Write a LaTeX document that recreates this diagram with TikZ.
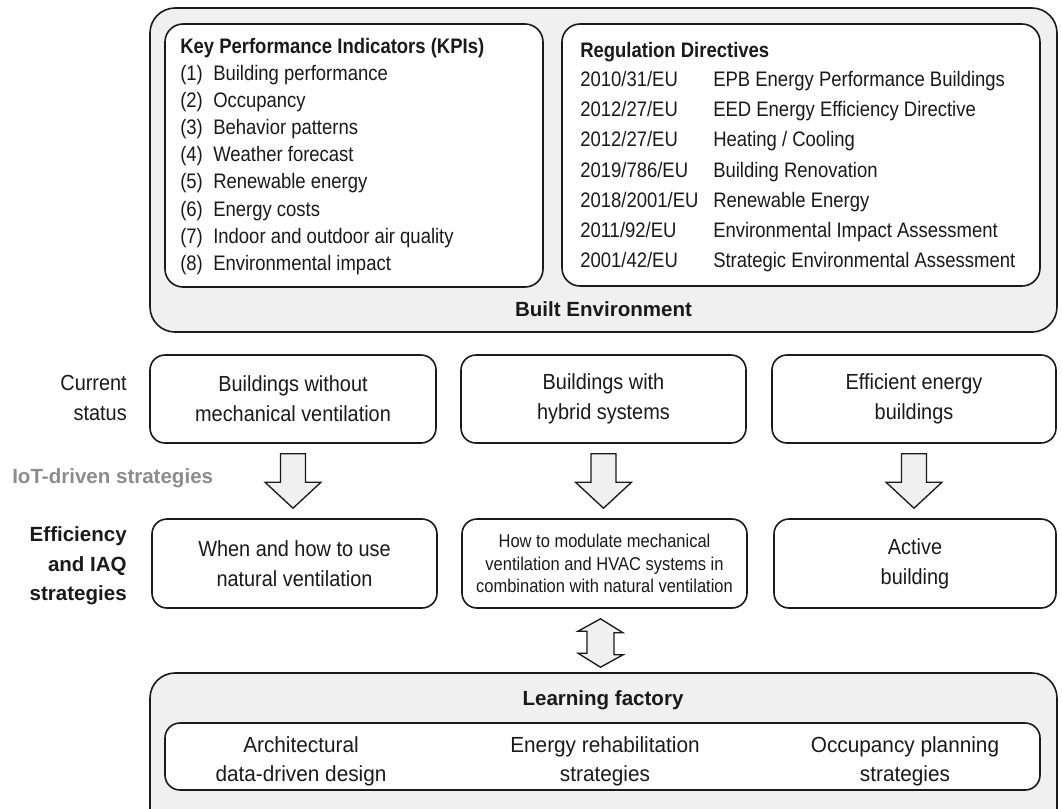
\documentclass[tikz,border=0pt]{standalone}
\usepackage{fontspec}
\setmainfont{Liberation Sans}
\newfontfamily\listfont{Liberation Sans}[FakeStretch=0.88]
\newfontfamily\boxfont{Liberation Sans}[FakeStretch=0.91]
\newfontfamily\lffont{Liberation Sans}[FakeStretch=0.95]
\newfontfamily\smallfont{Liberation Sans}[FakeStretch=0.89]
\usetikzlibrary{calc}
\definecolor{panel}{RGB}{240,240,240}
\definecolor{ink}{RGB}{26,26,26}
\definecolor{iotgray}{RGB}{140,140,140}
\tikzset{
  panelbox/.style={draw=ink, line width=1.2pt, fill=panel, rounded corners=25*0.75pt, inner sep=0pt},
  listbox/.style={draw=ink, line width=1.2pt, fill=white, rounded corners=18*0.75pt, inner sep=0pt},
  statebox/.style={draw=ink, line width=1.2pt, fill=white, rounded corners=15*0.75pt, inner sep=0pt,
    align=center, text=ink, font=\boxfont\fontsize{16.4}{22.5}\selectfont},
  listtext/.style={inner sep=0pt, anchor=base west, text=ink, font=\listfont\fontsize{15.75}{18}\selectfont},
  listhead/.style={listtext, font=\listfont\bfseries\fontsize{15.75}{18}\selectfont},
  sidelabel/.style={inner sep=0pt, anchor=east, align=right, text=ink},
  headtext/.style={inner sep=0pt, text=ink, font=\bfseries\fontsize{15.4}{18}\selectfont},
  lftext/.style={inner sep=0pt, align=center, text=ink, font=\lffont\fontsize{16.4}{21.75}\selectfont},
  blockarrow/.style={draw=ink, line width=1pt, fill=panel, line join=miter}
}
\begin{document}
\begin{tikzpicture}[x=0.75pt,y=-0.75pt]
\useasboundingbox (0,0) rectangle (1062,808);
\clip (0,0) rectangle (1062,808);

% Built environment panel with the two lists
\node[panelbox, minimum width=907*0.75pt, minimum height=324*0.75pt] (be) at (603.5,170) {};
\node[listbox, minimum width=378*0.75pt, minimum height=263*0.75pt] (kpi) at (354,155.5) {};
\node[listbox, minimum width=478*0.75pt, minimum height=262*0.75pt] (reg) at (801,155) {};
\node[headtext] (belabel) at (603.5,309) {Built Environment};

\node[listhead] (kpititle) at (180,53.5) {Key Performance Indicators (KPIs)};
\foreach \t [count=\i] in {Building performance, Occupancy, Behavior patterns, Weather forecast,
  Renewable energy, Energy costs, Indoor and outdoor air quality, Environmental impact}{
  \node[listtext] (kpinum\i) at (180,{80.5+(\i-1)*27.1}) {(\i)};
  \node[listtext] (kpitxt\i) at (213,{80.5+(\i-1)*27.1}) {\t};
}

\node[listhead] (regtitle) at (580,57.5) {Regulation Directives};
\node[listtext] (code1) at (580,86.5) {2010/31/EU};
\node[listtext] (dir1)  at (713,86.5) {EPB Energy Performance Buildings};
\node[listtext] (code2) at (580,116.7) {2012/27/EU};
\node[listtext] (dir2)  at (713,116.7) {EED Energy Efficiency Directive};
\node[listtext] (code3) at (580,146.9) {2012/27/EU};
\node[listtext] (dir3)  at (713,146.9) {Heating / Cooling};
\node[listtext] (code4) at (580,177.1) {2019/786/EU};
\node[listtext] (dir4)  at (713,177.1) {Building Renovation};
\node[listtext] (code5) at (580,207.3) {2018/2001/EU};
\node[listtext] (dir5)  at (713,207.3) {Renewable Energy};
\node[listtext] (code6) at (580,237.5) {2011/92/EU};
\node[listtext] (dir6)  at (713,237.5) {Environmental Impact Assessment};
\node[listtext] (code7) at (580,267.7) {2001/42/EU};
\node[listtext] (dir7)  at (713,267.7) {Strategic Environmental Assessment};

% Current status row
\node[sidelabel, font=\boxfont\fontsize{16.4}{22.5}\selectfont] (curlabel) at (127,398) {Current\\status};
\node[statebox, minimum width=286*0.75pt, minimum height=88*0.75pt] (cs1) at (293,399)
  {Buildings without\\mechanical ventilation};
\node[statebox, minimum width=285*0.75pt, minimum height=88*0.75pt] (cs2) at (603.5,399)
  {Buildings with\\hybrid systems};
\node[statebox, minimum width=284*0.75pt, minimum height=88*0.75pt] (cs3) at (914,399)
  {Efficient energy\\buildings};

\node[inner sep=0pt, anchor=west, text=iotgray, font=\bfseries\fontsize{15.4}{18}\selectfont] (iot) at (12,478)
  {IoT-driven strategies};

% Strategy row
\node[sidelabel, font=\bfseries\fontsize{15.4}{22}\selectfont] (efflabel) at (127,566)
  {Efficiency\\and IAQ\\strategies};
\node[statebox, minimum width=285*0.75pt, minimum height=89*0.75pt] (st1) at (294.5,563.5)
  {When and how to use\\natural ventilation};
\node[statebox, minimum width=285*0.75pt, minimum height=89*0.75pt,
  font=\smallfont\fontsize{13.9}{16.9}\selectfont] (st2) at (604.5,563.5)
  {How to modulate mechanical\\ventilation and HVAC systems in\\combination with natural ventilation};
\node[statebox, minimum width=282*0.75pt, minimum height=89*0.75pt] (st3) at (915,563.5)
  {Active\\building};

% Block arrows from status to strategy
\foreach \a/\b in {cs1/st1, cs2/st2, cs3/st3}{
  \draw[blockarrow] ($(\a.south)+(-12.5,10)$) -- ($(\a.south)+(12.5,10)$)
    -- ($(\a.south |- \b.north)+(12.5,-36)$) -- ++(15.5,0)
    -- ($(\a.south |- \b.north)+(0,-10)$) -- ++(-28,-26) -- ++(15.5,0) -- cycle;
}

% Learning factory panel
\node[panelbox, minimum width=907*0.75pt, minimum height=170*0.75pt] (lf) at (603.5,758) {};
\node[headtext] (lftitle) at (603,700) {Learning factory};
\node[statebox, minimum width=875*0.75pt, minimum height=67*0.75pt] (lfin) at (602.5,756.5) {};
\node[lftext] (lf1) at (301,761.5) {Architectural\\data-driven design};
\node[lftext] (lf2) at (605,761.5) {Energy rehabilitation\\strategies};
\node[lftext] (lf3) at (905,761.5) {Occupancy planning\\strategies};

% Two-way arrow between strategy and learning factory
\draw[blockarrow] ($(st2.south)+(-4,10)$) coordinate (dtop) -- ++(22.5,14) -- ++(-9,0) -- ++(0,22)
  -- ++(9,0) -- ($(dtop |- lf.north)+(0,-5)$) -- ++(-22.5,-14) -- ++(9,0) -- ++(0,-22)
  -- ++(-9,0) -- cycle;
\end{tikzpicture}
\end{document}
